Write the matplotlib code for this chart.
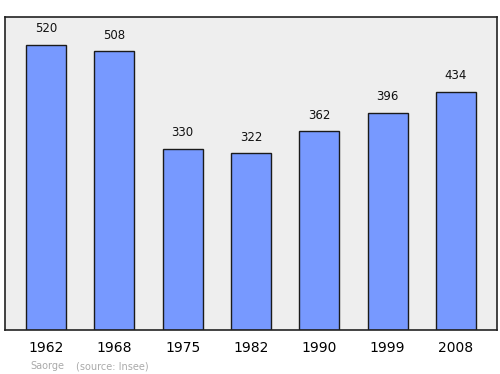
import matplotlib.pyplot as plt
import numpy as np

years = ["1962", "1968", "1975", "1982", "1990", "1999", "2008"]
population = [520, 508, 330, 322, 362, 396, 434]
commune = "Saorge"
source = "(source: Insee)"

fig = plt.figure(figsize=(5, 3.74), dpi=100)
ax = fig.add_axes([0.01, 0.118, 0.984, 0.837])
ax.set_facecolor("#eeeeee")

x = np.arange(len(years))
ax.bar(x, population, width=0.585, color="#7799ff", edgecolor="#1a1a1a", linewidth=1)
for xi, v in zip(x, population):
    ax.annotate(str(v), (xi, v), xytext=(0, 7), textcoords="offset points",
                ha="center", va="bottom", fontsize=8.5, color="#111111")

ax.set_xlim(-0.6, len(years) - 0.4)
ax.set_ylim(0, 571)
ax.set_yticks([])
ax.set_xticks(x)
ax.set_xticklabels(years, fontsize=10)
ax.tick_params(axis="x", length=0, pad=8)
for s in ax.spines.values():
    s.set_linewidth(1.2)
    s.set_color("#222222")

fig.text(0.06, 0.013, commune, fontsize=7, color="#aaaaaa")
fig.text(0.152, 0.013, source, fontsize=7, color="#aaaaaa")

fig.savefig("out.png", dpi=100)
